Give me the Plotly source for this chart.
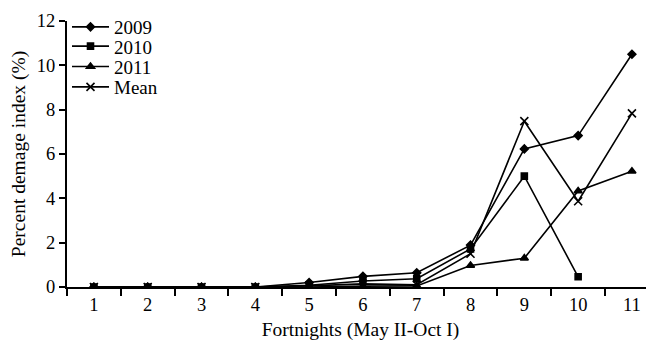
import plotly.graph_objects as go

fortnights = ["1", "2", "3", "4", "5", "6", "7", "8", "9", "10", "11"]
y2009 = [0, 0, 0, 0, 0.2, 0.48, 0.64, 1.89, 6.23, 6.83, 10.5]
y2010 = [0, 0, 0, 0, 0.08, 0.27, 0.37, 1.72, 5.0, 0.46, None]
y2011 = [0, 0, 0, 0, 0.0, 0.04, 0.05, 0.97, 1.3, 4.33, 5.22]
ymean = [0, 0, 0, 0, 0.05, 0.14, 0.1, 1.5, 7.48, 3.87, 7.83]

series = [
    ("2009", y2009, "diamond", 6),
    ("2010", y2010, "square", 6),
    ("2011", y2011, "triangle-up", 7),
    ("Mean", ymean, "x-thin-open", 8),
]

FAM = "Liberation Serif, Times New Roman, serif"
font = dict(family=FAM, size=19, color="black")
titlefont = dict(family=FAM, size=19.5, color="black")
tfont = dict(family=FAM, size=18.5, color="black")

fig = go.Figure()
legend_ids = ["legend", "legend2", "legend3", "legend4"]
for (name, vals, sym, size), lid in zip(series, legend_ids):
    fig.add_trace(go.Scatter(
        x=fortnights, y=vals, name=name, mode="lines+markers",
        line=dict(color="black", width=1.6),
        marker=dict(symbol=sym, size=size, color="black",
                    line=dict(color="black", width=1.6)),
        connectgaps=False, legend=lid,
    ))

legend_common = dict(x=0.0, xanchor="left", yanchor="middle",
                     bgcolor="rgba(0,0,0,0)", font=font, itemwidth=37)
# body margin of 8px is compensated in the figure size/margins
plot_h = 334 - 12 - 55
entry_y = [26, 46.3, 66.7, 87]  # page y centres of legend entries
layout_legends = {}
for lid, py in zip(legend_ids, entry_y):
    yf = 1 - (py - 8 - 12) / plot_h
    layout_legends[lid] = dict(legend_common, y=yf)

fig.update_layout(
    width=646, height=334,
    margin=dict(l=59, r=0, t=12, b=55),
    plot_bgcolor="white", paper_bgcolor="white",
    font=font,
    showlegend=True,
    **layout_legends,
    xaxis=dict(
        type="category", range=[-0.5, 10.41], automargin=False,
        tickson="boundaries", ticks="outside", ticklen=7, tickwidth=2,
        tickcolor="black", showline=True, linecolor="black", linewidth=2,
        showgrid=False, zeroline=False,
        title=dict(text="Fortnights (May II-Oct I)", standoff=8, font=titlefont),
        tickfont=tfont,
    ),
    yaxis=dict(
        range=[0, 12], tickvals=[0, 2, 4, 6, 8, 10, 12], automargin=False,
        ticks="outside", ticklen=6, tickwidth=2, tickcolor="black",
        showline=True, linecolor="black", linewidth=2,
        showgrid=False, zeroline=False,
        title=dict(text="Percent demage index (%)", standoff=6, font=titlefont),
        tickfont=tfont,
    ),
)

fig.write_html("out.html")
